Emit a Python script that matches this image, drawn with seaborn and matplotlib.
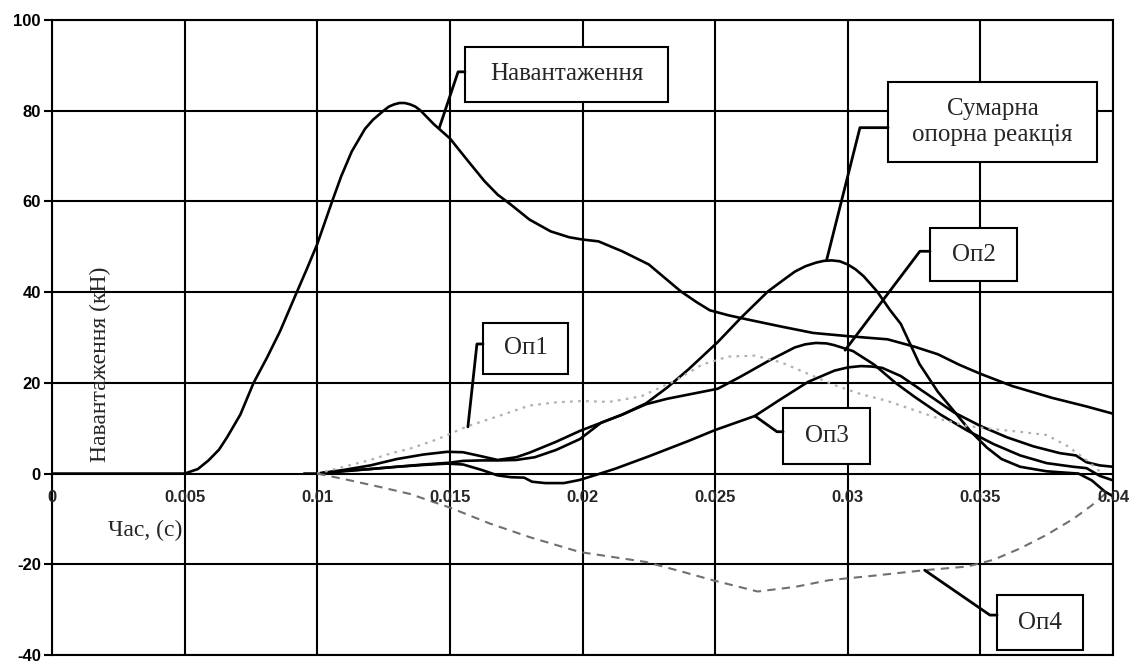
import numpy as np
import pandas as pd
import matplotlib
matplotlib.use("Agg")
import matplotlib.pyplot as plt
from matplotlib.patches import Rectangle
import seaborn as sns

# ---------------- data ----------------
x_ticks = [0, 0.005, 0.01, 0.015, 0.02, 0.025, 0.03, 0.035, 0.04]
x_tick_labels = ["0", "0.005", "0.01", "0.015", "0.02", "0.025", "0.03", "0.035", "0.04"]
y_ticks = [-40, -20, 0, 20, 40, 60, 80, 100]
y_tick_labels = ["-40", "-20", "0", "20", "40", "60", "80", "100"]

load_t = [0, 0.005, 0.0055, 0.0059, 0.0063, 0.0066, 0.0071, 0.0076, 0.0081, 0.0086, 0.0092,
          0.0096, 0.0100, 0.01056, 0.0109, 0.0113, 0.0118, 0.0121, 0.0123, 0.0125, 0.0127,
          0.0129, 0.0131, 0.0133, 0.0135, 0.0137, 0.0139, 0.0141,
          0.0144, 0.0150, 0.0157, 0.0163, 0.0168, 0.0173, 0.0180, 0.0188, 0.0195, 0.0200,
          0.0206, 0.0215, 0.0225, 0.0237, 0.0243, 0.0248, 0.0255, 0.0262, 0.0275, 0.0287, 0.0300,
          0.0315, 0.0325, 0.0334, 0.0342, 0.0350, 0.0362, 0.0377, 0.0390, 0.0400]
load_v = [0, 0, 1.0, 2.9, 5.3, 8.0, 13.0, 20.0, 25.5, 31.4, 39.6,
          45.0, 50.6, 60.0, 65.5, 71.0, 76.0, 78.0, 79.0, 80.0, 80.9,
          81.4, 81.7, 81.7, 81.4, 80.9, 80.0, 78.8,
          77.0, 73.9, 68.8, 64.5, 61.5, 59.3, 56.0, 53.4, 52.1, 51.6,
          51.2, 49.0, 46.1, 40.2, 37.8, 36.0, 34.9, 34.0, 32.4, 31.0, 30.3,
          29.6, 28.0, 26.3, 24.0, 22.0, 19.3, 16.7, 14.8, 13.2]

sum_t = [0.0095, 0.0100, 0.0110, 0.0120, 0.0130, 0.0140, 0.0149, 0.0155, 0.0162, 0.0168,
         0.0175, 0.0180, 0.0190, 0.0199, 0.0207, 0.0215, 0.0224, 0.0232, 0.0240, 0.0251,
         0.0260, 0.0270, 0.0276, 0.0280, 0.0284, 0.0288, 0.0291, 0.0294, 0.0297, 0.0300,
         0.0303, 0.0306, 0.0311, 0.0316, 0.0320, 0.03235,
         0.0327, 0.0334, 0.0340, 0.0346, 0.03525, 0.0358, 0.0365, 0.0375, 0.0387, 0.0392,
         0.0397, 0.0400]
sum_v = [0, 0, 0.8, 1.8, 3.2, 4.2, 4.8, 4.7, 3.8, 3.0,
         3.6, 4.6, 7.0, 9.4, 11.2, 13.0, 15.5, 19.0, 23.0, 29.0,
         34.5, 40.2, 42.8, 44.5, 45.7, 46.5, 46.9, 47.0, 46.8, 46.1,
         45.0, 43.5, 40.2, 36.0, 33.0, 28.6,
         24.2, 18.0, 13.8, 9.5, 5.7, 3.2, 1.5, 0.5, 0.0, -1.5,
         -4.0, -5.0]

op1_t = [0.0100, 0.0110, 0.0120, 0.0128, 0.0135, 0.0145, 0.0157, 0.0170, 0.0180, 0.0190,
         0.0200, 0.0210, 0.0222, 0.0235, 0.0245, 0.0255, 0.0265, 0.0275, 0.0285, 0.0295,
         0.0305, 0.0315, 0.0325, 0.0335, 0.0345, 0.0355, 0.0365, 0.0375, 0.0383, 0.0390,
         0.0395]
op1_v = [0, 1.5, 3.0, 4.5, 5.5, 7.5, 10.5, 13.0, 15.0, 15.7,
         16.0, 15.8, 17.0, 20.5, 24.0, 25.8, 26.0, 24.5, 22.0, 19.5,
         17.5, 16.0, 14.0, 12.0, 10.5, 9.8, 9.2, 8.5, 6.0, 3.0,
         0.5]

op2_t = [0.0100, 0.0110, 0.0120, 0.0130, 0.0140, 0.0150, 0.0155, 0.0162, 0.0168, 0.0175,
         0.0182, 0.0190, 0.0199, 0.0207, 0.0215, 0.0224, 0.0232, 0.0251, 0.0260, 0.0270,
         0.0280, 0.0284, 0.0288, 0.0292, 0.0295, 0.0302, 0.0310, 0.0318, 0.0325, 0.0335,
         0.0345, 0.0355, 0.0365, 0.0375, 0.0385, 0.0390, 0.0395, 0.0400]
op2_v = [0, 0.5, 1.0, 1.5, 2.0, 2.4, 2.8, 2.9, 2.9, 3.0,
         3.6, 5.2, 7.6, 11.2, 13.0, 15.3, 16.5, 18.7, 21.5, 24.8,
         27.8, 28.5, 28.8, 28.7, 28.3, 27.0, 24.0, 20.0, 17.0, 13.0,
         9.5, 6.5, 4.0, 2.3, 1.5, 1.2, -0.5, -1.5]

op3_t = [0.0100, 0.0110, 0.0120, 0.0130, 0.0140, 0.0149, 0.0155, 0.0162, 0.0168, 0.0173,
         0.0178, 0.0181, 0.0186, 0.0193, 0.0199, 0.0205, 0.0212, 0.0225, 0.0240, 0.0250,
         0.0265, 0.0275, 0.0285, 0.0295, 0.0300, 0.0305, 0.0309, 0.0313, 0.0320, 0.0330,
         0.0340, 0.0350, 0.0360, 0.0370, 0.0380, 0.0386, 0.0390, 0.0395, 0.0400]
op3_v = [0, 0.6, 1.0, 1.5, 1.9, 2.2, 2.0, 0.8, -0.4, -0.8,
         -0.9, -1.8, -2.1, -2.1, -1.4, -0.3, 1.0, 3.8, 7.2, 9.6,
         12.7, 16.5, 20.2, 22.7, 23.4, 23.7, 23.6, 23.3, 21.5, 17.5,
         13.5, 10.5, 8.0, 6.0, 4.5, 4.0, 2.5, 1.8, 1.5]

op4_t = [0.0100, 0.0110, 0.0124, 0.0135, 0.0150, 0.0165, 0.0180, 0.0199, 0.0224, 0.0238,
         0.0249, 0.0266, 0.0280, 0.0293, 0.0310, 0.0329, 0.0345, 0.0355, 0.0365, 0.0375,
         0.0385, 0.0392, 0.0397]
op4_v = [0, -1.2, -3.0, -4.5, -7.5, -11.0, -14.0, -17.3, -19.5, -21.7,
         -23.5, -26.0, -25.0, -23.5, -22.5, -21.3, -20.5, -19.0, -16.5, -13.5,
         -10.0, -7.0, -4.5]

# annotation labels
lbl_load = "Навантаження"
lbl_sum = "Сумарна\nопорна реакція"
lbl_op = ["Оп1", "Оп2", "Оп3", "Оп4"]
y_axis_label = "Навантаження (кН)"
x_axis_label = "Час, (с)"

# ---------------- style ----------------
sns.set_style("white")
plt.rcParams["font.family"] = ["Liberation Serif", "DejaVu Serif"]

fig = plt.figure(figsize=(11.34, 6.64), dpi=100)
ax = fig.add_axes([52 / 1134, 9 / 664, (1113 - 52) / 1134, (655 - 20) / 664])
ax.set_xlim(0, 0.04)
ax.set_ylim(-40, 100)

ax.set_xticks(x_ticks)
ax.set_yticks(y_ticks)
ax.set_yticklabels(y_tick_labels, family="Liberation Sans", fontsize=12, fontweight="bold")
ax.grid(True, color="black", lw=1.5)
ax.set_axisbelow(True)
for s in ax.spines.values():
    s.set_color("black")
    s.set_linewidth(1.5)
    s.set_visible(True)
ax.tick_params(axis="y", direction="out", length=6, width=1.5, pad=2, colors="black", left=True)
ax.tick_params(axis="x", length=0, labelbottom=False)

lw = 1.9
sns.lineplot(x=load_t, y=load_v, ax=ax, color="black", lw=lw, estimator=None, sort=False, zorder=3)
sns.lineplot(x=sum_t, y=sum_v, ax=ax, color="black", lw=lw, estimator=None, sort=False, zorder=3)
sns.lineplot(x=op2_t, y=op2_v, ax=ax, color="black", lw=lw, estimator=None, sort=False, zorder=3)
sns.lineplot(x=op3_t, y=op3_v, ax=ax, color="black", lw=lw, estimator=None, sort=False, zorder=3)
sns.lineplot(x=op1_t, y=op1_v, ax=ax, color="#b0b0b0", lw=1.6, linestyle=(0, (1.2, 2.4)),
             estimator=None, sort=False, zorder=3)
sns.lineplot(x=op4_t, y=op4_v, ax=ax, color="#707070", lw=1.5, linestyle=(0, (4, 3)),
             estimator=None, sort=False, zorder=3)

# x tick labels drawn inside the plot, just below the zero line
for t, lab in zip(x_ticks, x_tick_labels):
    ax.text(t, -5.3, lab, ha="center", va="center", family="Liberation Sans",
            fontsize=12, fontweight="bold", clip_on=False, zorder=4)

ax.text(0.00181, 24, y_axis_label, rotation=90, ha="center", va="center", fontsize=17, zorder=4)
ax.text(0.00211, -12.5, x_axis_label, ha="left", va="center", fontsize=17, zorder=4)

# callout boxes: (label, box x0, x1, y0, y1, stub y, corner x, target x, target y)
callouts = [
    (lbl_load, 0.01557, 0.02322, 81.98, 94.07, 88.57, 0.01531, 0.0146, 76.2),
    (lbl_sum, 0.03152, 0.03940, 68.79, 86.37, 76.26, 0.03046, 0.0292, 47.0),
    (lbl_op[1], 0.03310, 0.03638, 42.42, 54.07, 49.01, 0.03272, 0.0299, 27.2),
    (lbl_op[0], 0.01625, 0.01945, 21.98, 33.19, 28.57, 0.01602, 0.01568, 10.3),
    (lbl_op[2], 0.02756, 0.03084, 2.20, 14.51, 9.23, 0.02733, 0.0265, 12.7),
    (lbl_op[3], 0.03563, 0.03887, -38.9, -26.81, -31.2, 0.03536, 0.0329, -21.3),
]
for lab, bx0, bx1, by0, by1, sy, cx, tx, ty in callouts:
    ax.add_patch(Rectangle((bx0, by0), bx1 - bx0, by1 - by0, facecolor="white",
                           edgecolor="black", lw=1.5, zorder=5))
    ax.plot([bx0, cx, tx], [sy, sy, ty], color="black", lw=2.0, zorder=5,
            solid_capstyle="round")
    ax.text((bx0 + bx1) / 2, (by0 + by1) / 2, lab, ha="center", va="center",
            fontsize=18, linespacing=1.25, zorder=6)

fig.savefig("out.png", dpi=100, facecolor="white")
